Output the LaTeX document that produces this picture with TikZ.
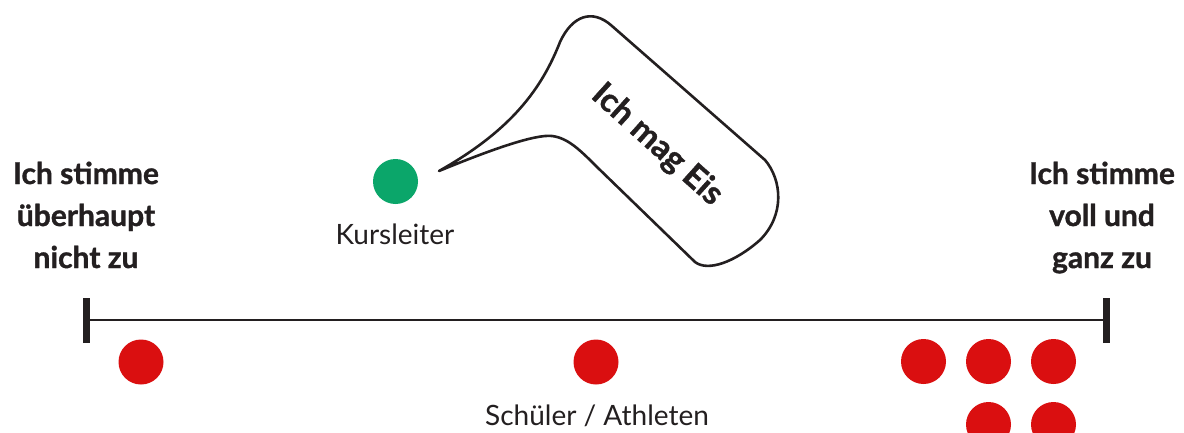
\documentclass[tikz,border=0pt]{standalone}
\usepackage{fontspec}
\setmainfont{Lato}[BoldFeatures={FakeBold=1.2}]
\definecolor{dotred}{HTML}{DA0F10}
\definecolor{dotgreen}{HTML}{0BA66A}
\definecolor{ink}{HTML}{231F20}
\tikzset{
  reddot/.style={circle,fill=dotred,minimum size=45pt,inner sep=0pt},
  greendot/.style={circle,fill=dotgreen,minimum size=45pt,inner sep=0pt},
  boldlbl/.style={anchor=base,inner sep=0pt,text=ink,font=\bfseries\fontsize{30}{36}\selectfont},
  lbl/.style={anchor=base,inner sep=0pt,text=ink,font=\fontsize{28}{34}\selectfont},
}
\begin{document}
\begin{tikzpicture}[x=1pt,y=-1pt]
\useasboundingbox (0,0) rectangle (1184,432);
% axis
\coordinate (L) at (86,320);
\coordinate (R) at (1106,320);
\draw[ink,line width=2.6pt] (L) -- (R);
\draw[ink,line width=7pt] ([yshift=-23pt]L) -- ([yshift=22pt]L);
\draw[ink,line width=7pt] ([yshift=-23pt]R) -- ([yshift=22pt]R);
% left label
\node[boldlbl] (l1) at (86,184) {Ich stimme};
\node[boldlbl] (l2) at (86,226) {überhaupt};
\node[boldlbl] (l3) at (86,268) {nicht zu};
% right label
\node[boldlbl] (r1) at (1102,184) {Ich stimme};
\node[boldlbl] (r2) at (1102,226) {voll und};
\node[boldlbl] (r3) at (1102,268) {ganz zu};
% teacher
\node[greendot] (teacher) at (395.5,181.5) {};
\node[lbl] (tlabel) at (395,244) {Kursleiter};
% students
\node[reddot] (s1) at (141,362) {};
\node[reddot] (s2) at (596,362) {};
\node[reddot] (s3) at (923.5,361.5) {};
\node[reddot] (s4) at (988.5,361.5) {};
\node[reddot] (s5) at (1053.5,361.5) {};
\node[reddot] (s6) at (988.5,424.5) {};
\node[reddot] (s7) at (1053.5,424.5) {};
\node[lbl] (slabel) at (597,425) {Schüler / Athleten};
% speech bubble
\draw[ink,line width=2.6pt,line join=round]
  (439,171) .. controls (490,150) and (535,134) .. (552,136)
  .. controls (568,138) and (580,150) .. (597,167)
  -- (695,262)
  .. controls (708,272) and (735,262) .. (760,240)
  .. controls (785,215) and (782,180) .. (765,160)
  -- (612,26)
  .. controls (592,8) and (572,16) .. (560,42)
  .. controls (542,88) and (512,130) .. cycle;
\node[text=ink,font=\bfseries\fontsize{33}{38}\selectfont,rotate=-42,inner sep=0pt] (say) at (657,145) {Ich mag Eis};
\end{tikzpicture}
\end{document}
